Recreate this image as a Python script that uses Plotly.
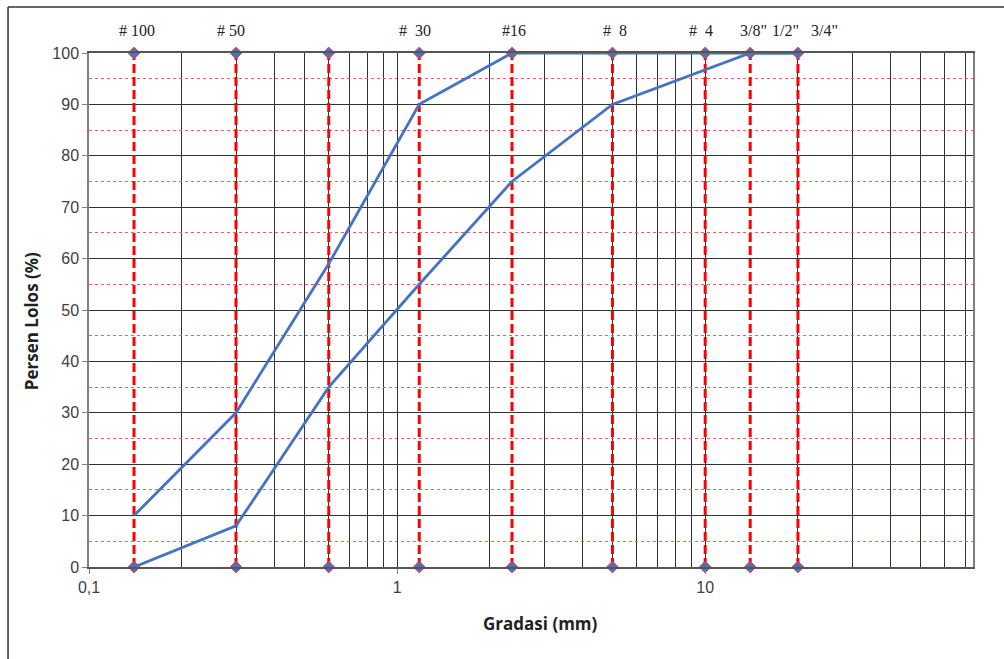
import math
import plotly.graph_objects as go

# ---- data ----
sieve_mm = [0.14, 0.3, 0.6, 1.18, 2.36, 5, 10, 14, 20]
upper_x = [0.14, 0.3, 0.6, 1.18, 2.36, 5, 10, 14, 20]
upper_y = [10, 30, 59, 90, 100, 100, 100, 100, 100]
lower_x = [0.14, 0.3, 0.6, 1.18, 2.36, 5, 14, 20]
lower_y = [0, 8, 35, 55, 75, 90, 100, 100]
top_labels = ["#\u00a0100", "#\u00a050", "#\u00a0\u00a030", "#16", "#\u00a0\u00a08", "#\u00a0\u00a04", "3/8\"", "1/2\"", "3/4\""]
top_label_x = [0.143, 0.29, 1.14, 2.4, 5.1, 9.7, 14.3, 18.2, 24.4]
x_ticks = [0.1, 1, 10]
x_ticktext = ["0,1", "1", "10"]
x_minor = [0.2, 0.3, 0.4, 0.5, 0.6, 0.7, 0.8, 0.9,
           2, 3, 4, 5, 6, 7, 8, 9,
           20, 30, 40, 50, 60, 70]
y_ticks = list(range(0, 101, 10))
y_minor = list(range(5, 100, 10))

BLUE = "#4472C4"
RED = "#FF0000"

fig = go.Figure()

# red vertical sieve lines
vx, vy = [], []
for s in sieve_mm:
    vx += [s, s, None]
    vy += [0, 100, None]
fig.add_trace(go.Scatter(x=vx, y=vy, mode="lines",
                         line=dict(color=RED, width=3, dash="9px,4px"),
                         cliponaxis=False, showlegend=False, hoverinfo="skip"))

# grading envelope curves
fig.add_trace(go.Scatter(x=upper_x, y=upper_y, mode="lines",
                         line=dict(color=BLUE, width=2.8),
                         cliponaxis=False, showlegend=False))
fig.add_trace(go.Scatter(x=lower_x, y=lower_y, mode="lines",
                         line=dict(color=BLUE, width=2.8),
                         cliponaxis=False, showlegend=False))

# diamond markers at top & bottom of sieve lines
mx, my = [], []
for s in sieve_mm:
    mx += [s, s]
    my += [0, 100]
fig.add_trace(go.Scatter(x=mx, y=my, mode="markers",
                         marker=dict(symbol="diamond", size=9, color=BLUE,
                                     line=dict(color="#FF3030", width=1)),
                         cliponaxis=False, showlegend=False, hoverinfo="skip"))

for t, xv in zip(top_labels, top_label_x):
    fig.add_annotation(x=math.log10(xv), y=1.0434, xref="x", yref="paper",
                       text=t, showarrow=False, yanchor="middle", xanchor="center",
                       font=dict(family="Liberation Serif", size=16, color="#222222"))

# axis titles
fig.add_annotation(x=0.5113, y=-0.109, xref="paper", yref="paper",
                   xanchor="center", yanchor="middle",
                   text="<b>Gradasi (mm)</b>", showarrow=False,
                   font=dict(family="Open Sans", size=17, color="#222222"))
fig.add_annotation(x=-0.0648, y=0.4776, xref="paper", yref="paper",
                   xanchor="center", yanchor="middle",
                   text="<b>Persen Lolos (%)</b>", showarrow=False, textangle=-90,
                   font=dict(family="Open Sans", size=17, color="#222222"))

# outer frame (left and top edges)
fig.add_shape(type="line", xref="paper", yref="paper",
              x0=-0.0916, x1=-0.0916, y0=1.0895, y1=-0.2,
              line=dict(color="#333333", width=1.5))
fig.add_shape(type="line", xref="paper", yref="paper",
              x0=-0.0916, x1=1.05, y0=1.0895, y1=1.0895,
              line=dict(color="#333333", width=1.5))

fig.update_layout(
    width=1004, height=659,
    margin=dict(l=89, r=31, t=53, b=92),
    paper_bgcolor="white", plot_bgcolor="white",
    xaxis=dict(type="log", range=[-1, math.log10(74)],
               tickmode="array", tickvals=x_ticks, ticktext=x_ticktext,
               showgrid=True, gridcolor="#333333", gridwidth=1,
               ticks="outside", ticklen=5, tickcolor="#808080",
               showline=True, linecolor="#555555", linewidth=1.5, mirror=True,
               tickfont=dict(family="Liberation Sans", size=16, color="#404040"),
               minor=dict(tickmode="array", tickvals=x_minor, showgrid=True,
                          gridcolor="#333333", gridwidth=1, ticks=""),
               zeroline=False),
    yaxis=dict(range=[0, 100], tickmode="array", tickvals=y_ticks,
               showgrid=True, gridcolor="#333333", gridwidth=1,
               ticks="outside", ticklen=5, tickcolor="#808080",
               showline=True, linecolor="#808080", linewidth=1.5, mirror=True,
               tickfont=dict(family="Liberation Sans", size=16, color="#404040"),
               minor=dict(tickmode="array", tickvals=y_minor, showgrid=True,
                          gridcolor="#FF5A5A", gridwidth=1, griddash="dot", ticks=""),
               zeroline=False),
)

fig.write_html("out.html")
